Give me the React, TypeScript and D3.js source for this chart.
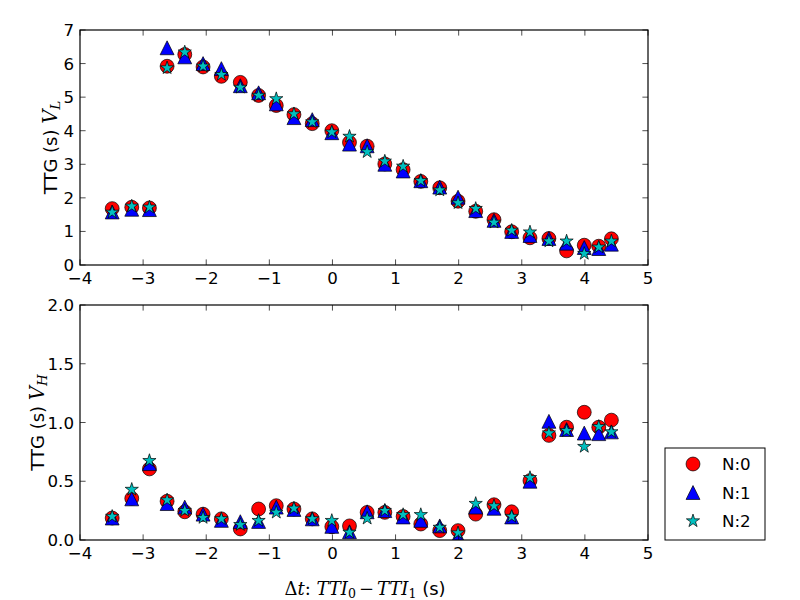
import React from "react";
import * as d3 from "d3";

const xVals = [-3.49, -3.18, -2.9, -2.62, -2.34, -2.05, -1.76, -1.46, -1.17, -0.89, -0.61, -0.32, -0.01, 0.27, 0.55, 0.83, 1.12, 1.4, 1.7, 1.99, 2.27, 2.56, 2.84, 3.13, 3.43, 3.71, 3.99, 4.22, 4.42];

const topN0 = [1.68, 1.72, 1.7, 5.92, 6.27, 5.9, 5.62, 5.44, 5.05, 4.75, 4.48, 4.21, 4.0, 3.65, 3.54, 3.01, 2.84, 2.49, 2.3, 1.9, 1.6, 1.35, 0.99, 0.81, 0.79, 0.42, 0.59, 0.56, 0.78];
const topN1 = [1.58, 1.66, 1.65, 6.47, 6.2, 6.0, 5.85, 5.34, 5.13, 4.8, 4.39, 4.33, 3.94, 3.6, 3.55, 3.0, 2.8, 2.51, 2.32, 2.02, 1.62, 1.33, 1.0, 0.88, 0.79, 0.65, 0.52, 0.49, 0.62];
const topN2 = [1.57, 1.75, 1.72, 5.87, 6.34, 5.92, 5.67, 5.29, 5.05, 4.95, 4.5, 4.26, 3.96, 3.83, 3.37, 3.09, 2.94, 2.51, 2.23, 1.85, 1.68, 1.27, 1.03, 0.98, 0.71, 0.71, 0.34, 0.53, 0.71];

const botN0 = [0.187, 0.354, 0.605, 0.33, 0.24, 0.22, 0.18, 0.094, 0.264, 0.292, 0.264, 0.18, 0.113, 0.12, 0.235, 0.235, 0.2, 0.136, 0.08, 0.08, 0.22, 0.3, 0.24, 0.505, 0.89, 0.96, 1.087, 0.96, 1.02];
const botN1 = [0.187, 0.35, 0.65, 0.31, 0.28, 0.22, 0.167, 0.156, 0.158, 0.28, 0.26, 0.18, 0.116, 0.07, 0.24, 0.25, 0.196, 0.167, 0.12, 0.035, 0.28, 0.27, 0.196, 0.5, 1.01, 0.94, 0.91, 0.905, 0.92];
const botN2 = [0.2, 0.43, 0.675, 0.34, 0.25, 0.19, 0.18, 0.13, 0.165, 0.235, 0.27, 0.18, 0.165, 0.065, 0.184, 0.25, 0.215, 0.215, 0.107, 0.06, 0.31, 0.29, 0.2, 0.53, 0.91, 0.93, 0.795, 0.965, 0.92];

const xTicks = [-4, -3, -2, -1, 0, 1, 2, 3, 4, 5];
const topYTicks = [0, 1, 2, 3, 4, 5, 6, 7];
const botYTicks = [0, 0.5, 1.0, 1.5, 2.0];
const seriesNames = ["N:0", "N:1", "N:2"];
const seriesColors = ["#ff0000", "#0000ff", "#00bfbf"];
const seriesShapes = ["circle", "triangle", "star"];

const FONT = "DejaVu Sans, sans-serif";
const MATH = "DejaVu Serif, serif";
const FS = 16.67;
const LFS = 18;
const MS = 13.9; // marker size px

function markerPath(shape: string, s: number): string {
  const r = s / 2;
  if (shape === "circle") {
    return `M${r},0A${r},${r} 0 1,1 ${-r},0A${r},${r} 0 1,1 ${r},0Z`;
  }
  if (shape === "triangle") {
    return `M0,${-r}L${-r},${r}L${r},${r}Z`;
  }
  const inner = r * 0.381966;
  const pts: string[] = [];
  for (let i = 0; i < 10; i++) {
    const a = -Math.PI / 2 + (i * Math.PI) / 5;
    const rr = i % 2 === 0 ? r : inner;
    pts.push(`${(rr * Math.cos(a)).toFixed(3)},${(rr * Math.sin(a)).toFixed(3)}`);
  }
  return "M" + pts.join("L") + "Z";
}

const L = 80, R = 648;
const panels = [
  { id: "top", y0: 265, y1: 30, domain: [0, 7], ticks: topYTicks, fmt: d3.format("d"), data: [topN0, topN1, topN2], sub: "L", labelX: 57 },
  { id: "bot", y0: 540, y1: 305, domain: [0, 2], ticks: botYTicks, fmt: d3.format(".1f"), data: [botN0, botN1, botN2], sub: "H", labelX: 44 },
];

export default function App() {
  const x = d3.scaleLinear().domain([-4, 5]).range([L, R]);
  const xf = d3.format("d");
  const tl = 5.6;
  return (
    <svg width={800} height={600} style={{ position: "absolute", left: 0, top: 0, background: "#fff" }}>
      <rect x={0} y={0} width={800} height={600} fill="#fff" />
      <defs>
        {panels.map((p) => (
          <clipPath id={`clip-${p.id}`} key={p.id}>
            <rect x={L} y={p.y1} width={R - L} height={p.y0 - p.y1} />
          </clipPath>
        ))}
      </defs>
      {panels.map((p) => {
        const y = d3.scaleLinear().domain(p.domain).range([p.y0, p.y1]);
        const cy = (p.y0 + p.y1) / 2;
        return (
          <g key={p.id}>
            <g clipPath={`url(#clip-${p.id})`}>
              {p.data.map((series, si) => (
                <g key={si}>
                  {series.map((v, i) => (
                    <path
                      key={i}
                      d={markerPath(seriesShapes[si], MS)}
                      transform={`translate(${x(xVals[i])},${y(v)})`}
                      fill={seriesColors[si]}
                      stroke="#000"
                      strokeWidth={0.7}
                    />
                  ))}
                </g>
              ))}
            </g>
            {xTicks.map((t) => (
              <g key={"xt" + t}>
                <line x1={x(t)} x2={x(t)} y1={p.y0} y2={p.y0 - tl} stroke="#000" strokeWidth={0.7} />
                <line x1={x(t)} x2={x(t)} y1={p.y1} y2={p.y1 + tl} stroke="#000" strokeWidth={0.7} />
                <text x={x(t)} y={p.y0 + 6} dy="0.76em" textAnchor="middle" fontFamily={FONT} fontSize={FS}>
                  {xf(t)}
                </text>
              </g>
            ))}
            {p.ticks.map((t) => (
              <g key={"yt" + t}>
                <line x1={L} x2={L + tl} y1={y(t)} y2={y(t)} stroke="#000" strokeWidth={0.7} />
                <line x1={R} x2={R - tl} y1={y(t)} y2={y(t)} stroke="#000" strokeWidth={0.7} />
                <text x={L - 6} y={y(t)} dy="0.36em" textAnchor="end" fontFamily={FONT} fontSize={FS}>
                  {p.fmt(t)}
                </text>
              </g>
            ))}
            <rect x={L} y={p.y1} width={R - L} height={p.y0 - p.y1} fill="none" stroke="#000" strokeWidth={1.2} />
            <text transform={`translate(${p.labelX},${cy}) rotate(-90)`} textAnchor="middle" fontSize={LFS}>
              <tspan fontFamily={FONT}>TTG (s) </tspan>
              <tspan fontFamily={MATH} fontStyle="italic" fontSize={19.5}>V</tspan>
              <tspan fontFamily={MATH} fontStyle="italic" fontSize={13.5} dy={3}>{p.sub}</tspan>
            </text>
          </g>
        );
      })}
      <text x={365} y={595} textAnchor="middle" fontSize={18}>
        <tspan fontFamily={MATH}>Δ</tspan>
        <tspan fontFamily={MATH} fontStyle="italic">t</tspan>
        <tspan fontFamily={MATH}>: </tspan>
        <tspan fontFamily={MATH} fontStyle="italic">TTI</tspan>
        <tspan fontFamily={MATH} fontSize={12.5} dy={3}>0</tspan>
        <tspan fontFamily={MATH} dy={-3} dx={3}>−</tspan>
        <tspan fontFamily={MATH} fontStyle="italic" dx={3}>TTI</tspan>
        <tspan fontFamily={MATH} fontSize={12.5} dy={3}>1</tspan>
        <tspan fontFamily={FONT} fontSize={LFS} dy={-3}>  (s)</tspan>
      </text>
      <g>
        <rect x={665} y={448} width={100} height={92} fill="#fff" stroke="#000" strokeWidth={1} />
        {seriesNames.map((n, i) => {
          const ly = 464 + i * 28.5;
          return (
            <g key={n}>
              <path d={markerPath(seriesShapes[i], MS)} transform={`translate(693,${ly})`} fill={seriesColors[i]} stroke="#000" strokeWidth={0.7} />
              <text x={722} y={ly} dy="0.36em" fontFamily={FONT} fontSize={FS}>
                {n}
              </text>
            </g>
          );
        })}
      </g>
    </svg>
  );
}
